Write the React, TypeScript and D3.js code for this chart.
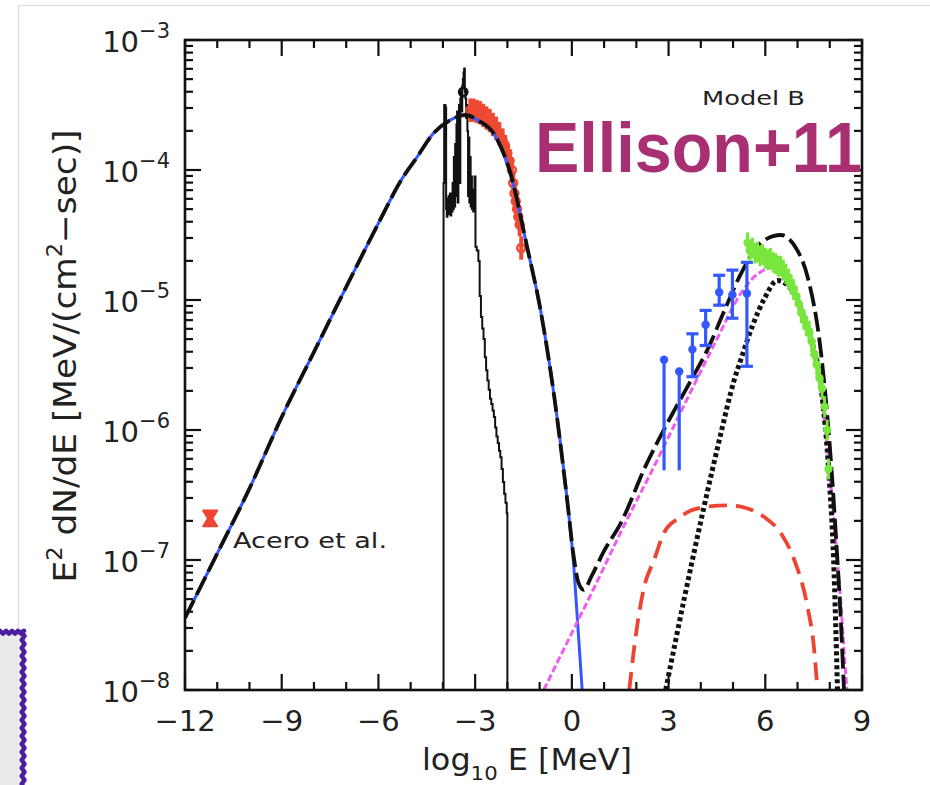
import React from 'react';
import * as d3 from 'd3';

// ---------- data (energies as log10 E [MeV], fluxes as log10 E^2 dN/dE) ----------
const syncE = [-12, -11, -10, -9, -8, -7, -6, -5.3, -4.8, -4.3, -3.8, -3.3, -2.9, -2.42, -1.9, -1.39, -0.97, -0.56, -0.14, 0.06, 0.17, 0.32, 0.4];
const syncF = [-7.446, -6.95, -6.45, -5.9, -5.4, -4.9, -4.41, -4.08, -3.9, -3.72, -3.62, -3.577, -3.62, -3.72, -4.03, -4.59, -5.08, -5.72, -6.55, -7.05, -7.45, -8.0, -8.3];

const totE = [-12, -11, -10, -9, -8, -7, -6, -5.3, -4.8, -4.3, -3.8, -3.3, -2.9, -2.42, -1.9, -1.39, -0.97, -0.56, -0.14, 0.06, 0.2, 0.37, 0.6, 1.0, 1.51, 2.3, 3.0, 3.69, 4.21, 4.7, 5.24, 5.86, 6.48, 7.0, 7.31, 7.73, 8.04, 8.2, 8.33, 8.45];
const totF = [-7.446, -6.95, -6.45, -5.9, -5.4, -4.9, -4.41, -4.08, -3.9, -3.72, -3.62, -3.577, -3.62, -3.72, -4.03, -4.59, -5.08, -5.72, -6.55, -6.98, -7.17, -7.23, -7.13, -6.93, -6.72, -6.27, -5.93, -5.62, -5.38, -5.1, -4.8, -4.56, -4.5, -4.62, -4.82, -5.41, -6.25, -6.85, -7.4, -8.05];

const icE = [-0.87, 0, 0.66, 1.51, 2.55, 3.5, 4.5, 5.24, 5.76, 6.3, 6.8, 7.31, 7.73, 8.02, 8.2, 8.35, 8.47, 8.55];
const icF = [-8, -7.56, -7.23, -6.79, -6.28, -5.8, -5.3, -4.95, -4.8, -4.75, -4.88, -5.2, -5.7, -6.38, -6.9, -7.35, -7.8, -8.05];

const bremE = [1.78, 2.0, 2.24, 2.55, 2.86, 3.3, 3.69, 4.2, 4.83, 5.4, 5.97, 6.5, 6.9, 7.31, 7.5, 7.62];
const bremF = [-8, -7.55, -7.21, -7.0, -6.79, -6.68, -6.62, -6.59, -6.58, -6.6, -6.67, -6.8, -7.0, -7.36, -7.65, -8.0];

const pionE = [2.91, 3.5, 4.1, 4.6, 5.03, 5.24, 5.6, 5.97, 6.38, 6.9, 7.31, 7.73, 7.98, 8.12, 8.24];
const pionF = [-8, -7.28, -6.59, -6.05, -5.62, -5.46, -5.2, -4.99, -4.85, -4.95, -5.23, -5.67, -6.36, -7.0, -8.0];

// thermal X-ray spectrum (histogram, left bin edges)
const histE = [-3.98, -3.96, -3.94, -3.92, -3.90, -3.88, -3.86, -3.84, -3.82, -3.80, -3.78, -3.76, -3.74, -3.72,
  -3.70, -3.68, -3.66, -3.64, -3.62, -3.60, -3.58, -3.56, -3.54, -3.52, -3.50, -3.48, -3.46, -3.44, -3.42, -3.40,
  -3.38, -3.36, -3.34, -3.32, -3.30, -3.28, -3.26, -3.24, -3.22, -3.20, -3.18, -3.16, -3.14, -3.12, -3.10, -3.08,
  -3.06, -3.04, -3.02, -2.99, -2.95, -2.90, -2.86, -2.82, -2.78, -2.74, -2.70, -2.66, -2.62, -2.58, -2.54, -2.50,
  -2.46, -2.42, -2.38, -2.34, -2.30, -2.26, -2.22, -2.18, -2.14, -2.10, -2.06, -2.02, -2.00];
const histF = [-4.10, -3.50, -3.50, -3.52, -4.30, -4.36, -4.22, -4.34, -4.20, -4.30, -4.18, -4.35, -4.25, -4.32,
  -4.10, -4.30, -3.90, -4.28, -3.80, -4.20, -3.65, -3.55, -4.25, -3.60, -3.50, -4.10, -3.45, -3.40, -3.55, -3.35,
  -3.30, -3.25, -3.22, -3.40, -3.45, -3.60, -3.50, -3.70, -4.20, -3.75, -4.25, -3.90, -4.28, -4.05, -4.30, -4.15,
  -4.32, -4.20, -4.05, -4.59, -4.62, -4.70, -4.97, -5.13, -5.22, -5.30, -5.44, -5.54, -5.62, -5.69, -5.76, -5.80,
  -5.85, -5.90, -5.98, -6.05, -6.10, -6.16, -6.21, -6.30, -6.40, -6.49, -6.56, -6.64, -8.0];
const peakMarkE = [-3.37];
const peakMarkF = [-3.4];

// X-ray data (red)
const xrayE = [-3.15, -3.05, -2.95, -2.85, -2.75, -2.65, -2.55, -2.45, -2.35, -2.25, -2.15, -2.07, -2.0, -1.93, -1.86, -1.82, -1.78, -1.74, -1.7, -1.66, -1.62, -1.57];
const xrayF = [-3.54, -3.54, -3.55, -3.56, -3.58, -3.6, -3.62, -3.65, -3.68, -3.72, -3.77, -3.82, -3.87, -3.93, -4.0, -4.1, -4.18, -4.24, -4.3, -4.36, -4.42, -4.6];

// radio (Acero et al.)
const radioE = [-11.22];
const radioF = [-6.68];
const radioLo = [-6.74];
const radioHi = [-6.62];

// Fermi (blue)
const fermiE = [2.86, 3.33, 3.74, 4.15, 4.57, 4.98, 5.43];
const fermiF = [-5.46, -5.55, -5.38, -5.19, -4.94, -4.96, -4.95];
const fermiLo = [-6.31, -6.31, -5.59, -5.35, -5.04, -5.14, -5.51];
const fermiHi = [-5.46, -5.55, -5.26, -5.08, -4.81, -4.77, -4.71];

// HESS (green)
const hessE = [5.45, 5.52, 5.6, 5.68, 5.76, 5.84, 5.92, 6.0, 6.08, 6.16, 6.24, 6.32, 6.4, 6.48, 6.56, 6.64, 6.72, 6.8, 6.88, 6.96, 7.04, 7.12, 7.2, 7.28, 7.36, 7.44, 7.52, 7.6, 7.68, 7.76, 7.84, 7.92, 7.96];
const hessF = [-4.56, -4.62, -4.6, -4.64, -4.63, -4.66, -4.65, -4.68, -4.69, -4.68, -4.71, -4.72, -4.74, -4.74, -4.77, -4.8, -4.84, -4.88, -4.92, -4.97, -5.03, -5.1, -5.15, -5.2, -5.24, -5.32, -5.42, -5.5, -5.6, -5.68, -5.82, -6.0, -6.3];

// axes
const xMajor = [-12, -9, -6, -3, 0, 3, 6, 9];
const xMajorLabels = ['\u221212', '\u22129', '\u22126', '\u22123', '0', '3', '6', '9'];
const xMinor = [-11, -10, -8, -7, -5, -4, -2, -1, 1, 2, 4, 5, 7, 8];
const yDecades = [-8, -7, -6, -5, -4, -3];
const yDecadeLabels = ['\u22128', '\u22127', '\u22126', '\u22125', '\u22124', '\u22123'];
const yMinorMult = [2, 3, 4, 5, 6, 7, 8, 9];

const FONT = '"DejaVu Sans", "Liberation Sans", sans-serif';

export default function App() {
  const x = d3.scaleLinear().domain([-12, 9]).range([185, 862]);
  const y = d3.scaleLog().domain([1e-8, 1e-3]).range([690, 40]);
  const P = (v: number) => Math.pow(10, v);
  const X0 = x(-12), X1 = x(9), Y0 = y(1e-8), Y1 = y(1e-3);

  const mk = (xs: number[], ys: number[], curve: any = d3.curveMonotoneX) =>
    d3.line<number>().x((_, i) => x(xs[i])).y((d) => y(P(d))).curve(curve)(ys) || '';

  const histPath = (() => {
    const pts: [number, number][] = [[histE[0], -8]];
    histE.forEach((e, i) => pts.push([e, histF[i]]));
    return d3.line<[number, number]>().x((d) => x(d[0])).y((d) => y(P(d[1]))).curve(d3.curveStepAfter)(pts) || '';
  })();

  const yMinor: number[] = [];
  yDecades.slice(0, -1).forEach((d) => yMinorMult.forEach((m) => yMinor.push(m * P(d))));

  // wavy purple box edge (decorative)
  const wave: string[] = [];
  wave.push(`M -2 ${632}`);
  for (let i = 0; i <= 8; i++) wave.push(`L ${i * 3} ${632 + (i % 2 ? 1.6 : -1.2)}`);
  for (let i = 0; i <= 40; i++) wave.push(`L ${23 + (i % 2 ? 1.5 : -1.3)} ${632 + i * 4}`);

  return (
    <svg width={930} height={785} style={{ position: 'absolute', left: 0, top: 0, background: '#fff' }}>
      <defs>
        <clipPath id="plot">
          <rect x={X0} y={Y1} width={X1 - X0} height={Y0 - Y1} />
        </clipPath>
      </defs>
      {/* outer light frame */}
      <line x1={18.5} y1={5.5} x2={930} y2={5.5} stroke="#e2e2e2" strokeWidth={1.5} />
      <line x1={18.5} y1={5.5} x2={18.5} y2={632} stroke="#e2e2e2" strokeWidth={1.5} />
      {/* purple box */}
      <path d={wave.join(' ') + ' L -2 785 Z'} fill="#ebebeb" stroke="none" />
      <path d={wave.join(' ')} fill="none" stroke="#4b1f9e" strokeWidth={4.5} strokeLinejoin="round" />

      <g clipPath="url(#plot)">
        {/* thermal histogram */}
        <path d={histPath} fill="none" stroke="#111" strokeWidth={2} />
        {peakMarkE.map((e, i) => (
          <circle key={i} cx={x(e)} cy={y(P(peakMarkF[i]))} r={4} fill="none" stroke="#111" strokeWidth={2.8} />
        ))}
        {/* X-ray data */}
        {xrayE.map((e, i) => (
          <g key={i}>
            <line x1={x(e)} x2={x(e)} y1={y(P(xrayF[i] - 0.09))} y2={y(P(xrayF[i] + 0.09))} stroke="#ee4a33" strokeWidth={4} />
            <circle cx={x(e)} cy={y(P(xrayF[i]))} r={4} fill="none" stroke="#ee4a33" strokeWidth={2.4} />
          </g>
        ))}
        {/* synchrotron */}
        <path d={mk(syncE, syncF)} fill="none" stroke="#3358ff" strokeWidth={3} />
        {/* inverse Compton */}
        <path d={mk(icE, icF)} fill="none" stroke="#f05cf0" strokeWidth={3} strokeDasharray="7 3" />
        {/* bremsstrahlung */}
        <path d={mk(bremE, bremF)} fill="none" stroke="#ee4433" strokeWidth={3.8} strokeDasharray="18 9" />
        {/* pion decay */}
        <path d={mk(pionE, pionF)} fill="none" stroke="#111" strokeWidth={5} strokeDasharray="4 3" />
        {/* total */}
        <path d={mk(totE, totF)} fill="none" stroke="#111" strokeWidth={3.8} strokeDasharray="20 6" />
        {/* radio */}
        {radioE.map((e, i) => {
          const cx = x(e), lo = y(P(radioLo[i])), hi = y(P(radioHi[i])), mid = y(P(radioF[i]));
          return (
            <path key={i} d={`M ${cx - 7} ${hi} L ${cx + 7} ${hi} L ${cx + 2} ${mid} L ${cx + 7} ${lo} L ${cx - 7} ${lo} L ${cx - 2} ${mid} Z`}
              fill="#ee4433" stroke="#ee4433" strokeWidth={2} strokeLinejoin="round" />
          );
        })}
        {/* Fermi */}
        {fermiE.map((e, i) => (
          <g key={i} stroke="#3358ff" strokeWidth={3.2} fill="#3358ff">
            <line x1={x(e)} x2={x(e)} y1={y(P(fermiLo[i]))} y2={y(P(fermiHi[i]))} />
            {i >= 2 && <line x1={x(e) - 6} x2={x(e) + 6} y1={y(P(fermiLo[i]))} y2={y(P(fermiLo[i]))} />}
            {i >= 2 && <line x1={x(e) - 6} x2={x(e) + 6} y1={y(P(fermiHi[i]))} y2={y(P(fermiHi[i]))} />}
            <circle cx={x(e)} cy={y(P(fermiF[i]))} r={4.2} stroke="none" />
          </g>
        ))}
        {/* HESS */}
        {hessE.map((e, i) => (
          <g key={i} stroke="#78e63c" fill="#78e63c">
            <line x1={x(e)} x2={x(e)} y1={y(P(hessF[i] - 0.08))} y2={y(P(hessF[i] + 0.08))} strokeWidth={3} />
            <circle cx={x(e)} cy={y(P(hessF[i]))} r={4.2} stroke="none" />
          </g>
        ))}
      </g>

      {/* frame */}
      <rect x={X0} y={Y1} width={X1 - X0} height={Y0 - Y1} fill="none" stroke="#111" strokeWidth={2.6} />
      {/* ticks */}
      <g stroke="#111" strokeWidth={2.2}>
        {xMajor.map((v) => (
          <g key={'xM' + v}>
            <line x1={x(v)} x2={x(v)} y1={Y0} y2={Y0 - 16} />
            <line x1={x(v)} x2={x(v)} y1={Y1} y2={Y1 + 16} />
          </g>
        ))}
        {xMinor.map((v) => (
          <g key={'xm' + v}>
            <line x1={x(v)} x2={x(v)} y1={Y0} y2={Y0 - 8} />
            <line x1={x(v)} x2={x(v)} y1={Y1} y2={Y1 + 8} />
          </g>
        ))}
        {yDecades.map((d) => (
          <g key={'yM' + d}>
            <line x1={X0} x2={X0 + 16} y1={y(P(d))} y2={y(P(d))} />
            <line x1={X1} x2={X1 - 16} y1={y(P(d))} y2={y(P(d))} />
          </g>
        ))}
        {yMinor.map((v, i) => (
          <g key={'ym' + i}>
            <line x1={X0} x2={X0 + 8} y1={y(v)} y2={y(v)} />
            <line x1={X1} x2={X1 - 8} y1={y(v)} y2={y(v)} />
          </g>
        ))}
      </g>
      {/* tick labels */}
      <g fontFamily={FONT} fill="#222">
        {xMajor.map((v, i) => (
          <text key={'xl' + v} x={x(v)} y={731} fontSize={29} textAnchor="middle">{xMajorLabels[i]}</text>
        ))}
        {yDecades.map((d, i) => (
          <text key={'yl' + d} x={170} y={y(P(d)) + 12} fontSize={29} textAnchor="end">
            10<tspan fontSize={21} dy={-14}>{yDecadeLabels[i]}</tspan>
          </text>
        ))}
      </g>
      {/* axis titles */}
      <text x={527} y={770} fontFamily={FONT} fontSize={30} fill="#222" textAnchor="middle" textLength={210} lengthAdjust="spacingAndGlyphs">
        log<tspan fontSize={20} dy={10}>10</tspan><tspan dy={-10}> E [MeV]</tspan>
      </text>
      <text transform="translate(76,356) rotate(-90)" fontFamily={FONT} fontSize={32} fill="#222" textAnchor="middle" textLength={453} lengthAdjust="spacingAndGlyphs">
        E<tspan fontSize={21} dy={-14}>2</tspan><tspan dy={14}> dN/dE [MeV/(cm</tspan><tspan fontSize={21} dy={-14}>2</tspan><tspan dy={14}>{'\u2212sec)]'}</tspan>
      </text>
      {/* annotations */}
      <text x={702} y={105} fontFamily={FONT} fontSize={20} fill="#222" textLength={103} lengthAdjust="spacingAndGlyphs">Model  B</text>
      <text x={233} y={548} fontFamily={FONT} fontSize={21} fill="#222" textLength={154} lengthAdjust="spacingAndGlyphs">Acero et al.</text>
      <text x={535} y={171.5} fontFamily='"Liberation Sans", Arial, sans-serif' fontWeight="bold" fontSize={70} fill="#a82f72" textLength={327} lengthAdjust="spacingAndGlyphs">Ellison+11</text>
    </svg>
  );
}
